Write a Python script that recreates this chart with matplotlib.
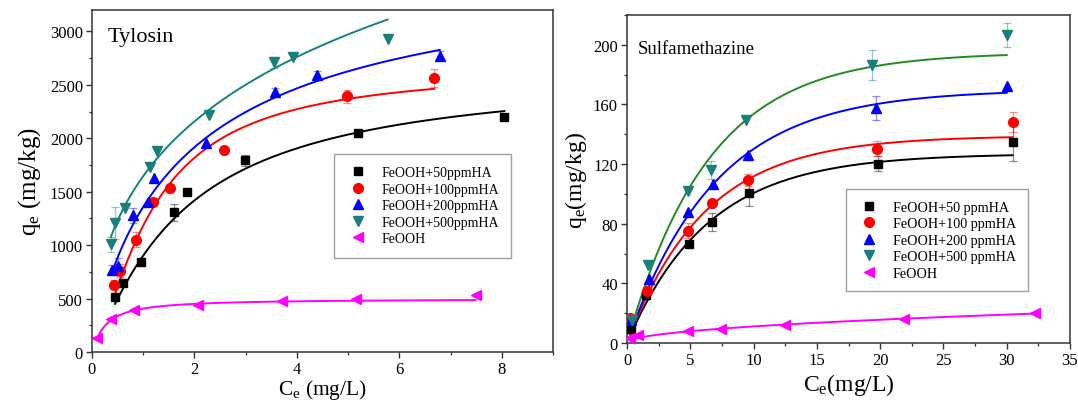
import numpy as np
import matplotlib
matplotlib.use("Agg")
import matplotlib.pyplot as plt
from matplotlib.ticker import MultipleLocator

plt.rcParams['font.family'] = 'Liberation Serif'
plt.rcParams['mathtext.fontset'] = 'custom'
plt.rcParams['mathtext.rm'] = 'Liberation Serif'
plt.rcParams['mathtext.it'] = 'Liberation Serif:italic'

# ---------------- Tylosin sorption data ----------------
ty_labels = ['FeOOH+50ppmHA', 'FeOOH+100ppmHA', 'FeOOH+200ppmHA',
             'FeOOH+500ppmHA', 'FeOOH']
ty_ce_50 = [0.45, 0.60, 0.96, 1.60, 1.85, 2.98, 5.19, 8.05]
ty_qe_50 = [510, 650, 846, 1306, 1499, 1794, 2052, 2195]
ty_er_50 = [30, 30, 30, 80, 0, 50, 0, 25]
ty_ce_100 = [0.43, 0.54, 0.86, 1.20, 1.53, 2.57, 4.97, 6.68]
ty_qe_100 = [631, 762, 1051, 1408, 1530, 1893, 2394, 2562]
ty_er_100 = [40, 60, 70, 0, 40, 0, 60, 85]
ty_ce_200 = [0.40, 0.50, 0.80, 1.10, 1.21, 2.22, 3.57, 4.39, 6.79]
ty_qe_200 = [771, 808, 1281, 1408, 1629, 1959, 2437, 2593, 2773]
ty_er_200 = [40, 70, 70, 0, 0, 0, 30, 40, 40]
ty_ce_500 = [0.37, 0.45, 0.65, 1.13, 1.27, 2.29, 3.56, 3.92, 5.77]
ty_qe_500 = [1010, 1206, 1346, 1729, 1881, 2214, 2711, 2761, 2929]
ty_er_500 = [70, 150, 0, 0, 0, 0, 50, 0, 0]
ty_ce_0 = [0.10, 0.38, 0.82, 2.06, 3.70, 5.16, 7.49]
ty_qe_0 = [134, 305, 392, 441, 479, 497, 538]
ty_er_0 = [0, 0, 0, 0, 0, 0, 0]

# Sips isotherm parameters (Qm, K, n) for each Tylosin series
ty_fit_50 = (2640.7, 0.5683, 1.160)
ty_fit_100 = (2671.1, 0.8509, 1.420)
ty_fit_200 = (3747.6, 0.5263, 0.880)
ty_fit_500 = (8100.3, 0.0686, 0.510)
ty_fit_0 = (497.7, 3.8843, 1.100)

# ---------------- Sulfamethazine sorption data ----------------
sm_labels = ['FeOOH+50 ppmHA', 'FeOOH+100 ppmHA', 'FeOOH+200 ppmHA',
             'FeOOH+500 ppmHA', 'FeOOH']
sm_ce_50 = [0.33, 1.54, 4.88, 6.75, 9.62, 19.84, 30.46]
sm_qe_50 = [9.6, 31.9, 66.5, 81.0, 100.7, 120.3, 135.0]
sm_er_50 = [0, 0, 0, 6, 9, 5, 13]
sm_ce_100 = [0.24, 1.60, 4.82, 6.75, 9.59, 19.78, 30.46]
sm_qe_100 = [16.7, 35.0, 75.4, 93.8, 109.4, 130.4, 148.2]
sm_er_100 = [0, 0, 5, 0, 4, 5, 7]
sm_ce_200 = [0.33, 1.76, 4.82, 6.83, 9.54, 19.70, 30.00]
sm_qe_200 = [15.2, 43.1, 88.2, 106.5, 126.1, 157.4, 172.1]
sm_er_200 = [0, 0, 0, 0, 0, 8, 0]
sm_ce_500 = [0.41, 1.63, 4.82, 6.64, 9.40, 19.38, 30.00]
sm_qe_500 = [15.2, 52.0, 101.8, 116.1, 149.8, 186.6, 206.7]
sm_er_500 = [0, 0, 0, 6, 0, 10, 8]
sm_ce_0 = [0.24, 0.87, 4.80, 7.43, 12.49, 21.87, 32.22]
sm_qe_0 = [3.3, 5.1, 8.0, 9.2, 12.3, 15.8, 20.1]
sm_er_0 = [0, 0, 0, 0, 0, 0, 0]

# Saturation-model parameters (Qm, k) for the HA-coated series,
# Freundlich (Kf, 1/n) for bare FeOOH
sm_fit_50 = (127.0, 0.157)
sm_fit_100 = (139.0, 0.163)
sm_fit_200 = (170.0, 0.145)
sm_fit_500 = (195.0, 0.155)
sm_fit_0 = (3.6, 0.49)


def sips(c, qm, k, n):
    kc = (k * c) ** n
    return qm * kc / (1 + kc)


def saturation(c, qm, k):
    return qm * (1 - np.exp(-k * c))


def freundlich(c, kf, inv_n):
    return kf * c ** inv_n


marker_styles = [
    dict(marker='s', color='#000000', ms=6.4),
    dict(marker='o', color='#ff0000', ms=7.0),
    dict(marker='^', color='#0000ff', ms=7.6),
    dict(marker='v', color='#1a7f7a', ms=7.6),
    dict(marker='<', color='#ff00ff', ms=7.6),
]


def draw_series(ax, ce, qe, err, style, label):
    ce = np.asarray(ce, float)
    qe = np.asarray(qe, float)
    err = np.asarray(err, float)
    has = err > 0
    if has.any():
        ax.errorbar(ce[has], qe[has], yerr=err[has], fmt='none',
                    ecolor=style['color'], alpha=0.45, elinewidth=0.9,
                    capsize=3, capthick=0.9, zorder=2)
    ax.plot(ce, qe, linestyle='none', marker=style['marker'],
            color=style['color'], ms=style['ms'], mec=style['color'],
            label=label, zorder=4)


def draw_fit(ax, ce, func, params, color):
    ce = np.asarray(ce, float)
    x = np.linspace(ce.min(), ce.max(), 300)
    ax.plot(x, func(x, *params), color=color, lw=1.4, zorder=3)


def style_axes(ax):
    for sp in ax.spines.values():
        sp.set_color('#333333')
        sp.set_linewidth(1.1)
    ax.tick_params(which='major', direction='out', length=4, width=1.0,
                   color='#333333', labelsize=12, pad=2.5)
    ax.tick_params(which='minor', direction='out', length=2.5, width=0.9,
                   color='#333333')


fig = plt.figure(figsize=(10.78, 4.02), dpi=100)

# ---- Tylosin ----
ax1 = fig.add_axes([92 / 1078, 49 / 402, 461 / 1078, 342 / 402])
ty_series = [
    (ty_ce_50, ty_qe_50, ty_er_50, ty_fit_50, '#000000'),
    (ty_ce_100, ty_qe_100, ty_er_100, ty_fit_100, '#ff0000'),
    (ty_ce_200, ty_qe_200, ty_er_200, ty_fit_200, '#0000ff'),
    (ty_ce_500, ty_qe_500, ty_er_500, ty_fit_500, '#16827c'),
    (ty_ce_0, ty_qe_0, ty_er_0, ty_fit_0, '#ff00ff'),
]
for (ce, qe, er, fit, lc), st, lab in zip(ty_series, marker_styles, ty_labels):
    draw_fit(ax1, ce, sips, fit, lc)
    draw_series(ax1, ce, qe, er, st, lab)
ax1.set_xlim(0, 9)
ax1.set_ylim(0, 3200)
ax1.xaxis.set_major_locator(MultipleLocator(2))
ax1.xaxis.set_minor_locator(MultipleLocator(1))
ax1.yaxis.set_major_locator(MultipleLocator(500))
ax1.yaxis.set_minor_locator(MultipleLocator(250))
style_axes(ax1)
ax1.set_xlabel(r'$\mathrm{C_e}$ (mg/L)', fontsize=15.5, labelpad=0)
ax1.set_ylabel(r'$\mathrm{q_e}$ (mg/kg)', fontsize=18, labelpad=5)
ax1.text(0.033, 0.95, 'Tylosin', transform=ax1.transAxes, fontsize=16,
         va='top', ha='left')
leg1 = ax1.legend(loc='upper left', bbox_to_anchor=(0.51, 0.6),
                  fontsize=10, frameon=True, fancybox=False,
                  handletextpad=0.9, borderpad=0.9, labelspacing=0.25,
                  handlelength=1.6)
leg1.get_frame().set_edgecolor('#888888')
leg1.get_frame().set_linewidth(1.0)

# ---- Sulfamethazine ----
ax2 = fig.add_axes([627 / 1078, 58 / 402, 443 / 1078, 328 / 402])
sm_series = [
    (sm_ce_50, sm_qe_50, sm_er_50, saturation, sm_fit_50, '#000000'),
    (sm_ce_100, sm_qe_100, sm_er_100, saturation, sm_fit_100, '#ff0000'),
    (sm_ce_200, sm_qe_200, sm_er_200, saturation, sm_fit_200, '#0000ff'),
    (sm_ce_500, sm_qe_500, sm_er_500, saturation, sm_fit_500, '#228b22'),
    (sm_ce_0, sm_qe_0, sm_er_0, freundlich, sm_fit_0, '#ff00ff'),
]
for (ce, qe, er, fn, fit, lc), st, lab in zip(sm_series, marker_styles, sm_labels):
    draw_fit(ax2, ce, fn, fit, lc)
    draw_series(ax2, ce, qe, er, st, lab)
ax2.set_xlim(0, 35)
ax2.set_ylim(0, 220)
ax2.xaxis.set_major_locator(MultipleLocator(5))
ax2.xaxis.set_minor_locator(MultipleLocator(2.5))
ax2.yaxis.set_major_locator(MultipleLocator(40))
ax2.yaxis.set_minor_locator(MultipleLocator(20))
style_axes(ax2)
ax2.set_xlabel(r'$\mathrm{C_e}$(mg/L)', fontsize=17, labelpad=2)
ax2.set_ylabel(r'$\mathrm{q_e}$(mg/kg)', fontsize=17, labelpad=3)
ax2.text(0.025, 0.925, 'Sulfamethazine', transform=ax2.transAxes,
         fontsize=13.5, va='top', ha='left')
leg2 = ax2.legend(loc='upper left', bbox_to_anchor=(0.479, 0.49),
                  fontsize=10.2, frameon=True, fancybox=False,
                  handletextpad=0.9, borderpad=0.8, labelspacing=0.25,
                  handlelength=1.6)
leg2.get_frame().set_edgecolor('#888888')
leg2.get_frame().set_linewidth(1.0)

fig.savefig('out.png', dpi=100, facecolor='white')
